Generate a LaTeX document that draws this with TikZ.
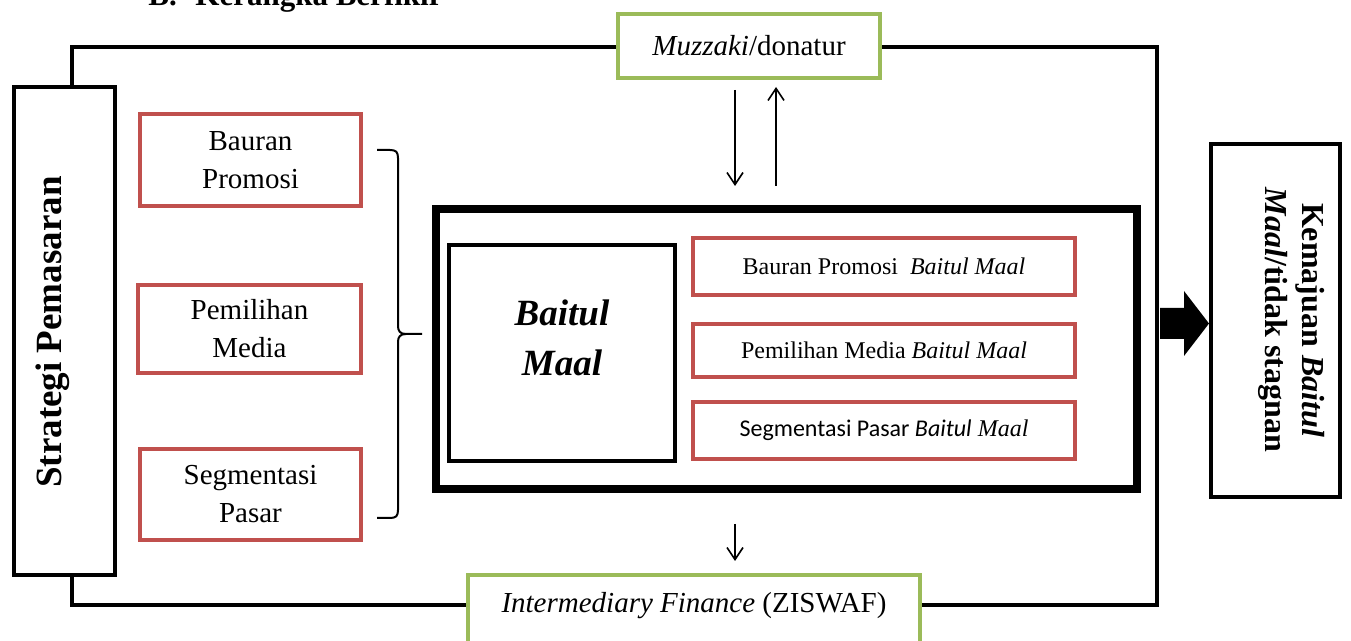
\documentclass[tikz,border=0pt]{standalone}
\usepackage{fontspec}
\setmainfont{Liberation Serif}
\newfontfamily\calibri{Carlito}
\usetikzlibrary{arrows.meta}
\definecolor{redc}{HTML}{C0504D}
\definecolor{greenc}{HTML}{9BBB59}
\tikzset{
  blkbox/.style={draw=black, line width=2pt, fill=white, inner sep=0pt, align=center},
  redbox/.style={draw=redc, line width=2pt, fill=white, inner sep=0pt, align=center},
  greenbox/.style={draw=greenc, line width=2pt, fill=white, inner sep=0pt, align=center},
  frameline/.style={line width=2.4pt},
  thinarr/.style={line width=0.8pt, -{Straight Barb[length=6pt,width=8pt]}},
  lefttxt/.style={font=\fontsize{14.5}{19}\selectfont},
  innertxt/.style={font=\fontsize{12}{14}\selectfont},
}
\begin{document}
\begin{tikzpicture}[x=0.5pt,y=-0.5pt]
\useasboundingbox (0,0) rectangle (1351,641);
\clip (0,0) rectangle (1351,641);

% heading (cut at top)
\node[anchor=base west, inner sep=0pt, font=\bfseries\fontsize{15.5}{18}\selectfont] (head) at (148,6) {B.\hspace{0.6em}Kerangka Berfikir};

% left column
\node[blkbox, minimum width=50.5pt, minimum height=244pt] (strat) at (64.5,331) {};
\node[rotate=90, inner sep=0pt, font=\bfseries\fontsize{18.5}{22}\selectfont] (stratt) at (53,332) {Strategi Pemasaran};

\node[redbox, lefttxt, minimum width=110.5pt, minimum height=46pt] (bp) at (250.5,160) {Bauran\\Promosi};
\node[redbox, lefttxt, minimum width=111.5pt, minimum height=44pt] (pm) at (249.5,329) {Pemilihan\\Media};
\node[redbox, lefttxt, minimum width=110.5pt, minimum height=45.5pt] (sp) at (250.5,494.5) {Segmentasi\\Pasar};

% brace
\coordinate (bt) at (377,150);
\coordinate (bb) at (377,518);
\coordinate (btip) at (422,334);
\draw[line width=1pt, line join=round]
  (bt) -- (390,150) .. controls (396,150) and (398,152) .. (398,158)
  -- (398,326) .. controls (398,331) and (400,334) .. (406,334) -- (btip)
  (406,334) .. controls (400,334) and (398,337) .. (398,342)
  -- (398,510) .. controls (398,516) and (396,518) .. (390,518) -- (bb);

% central block
\node[draw=black, line width=4pt, fill=white, minimum width=350.5pt, minimum height=140pt, inner sep=0pt] (big) at (786.5,349) {};
\node[blkbox, minimum width=113pt, minimum height=108pt] (bm) at (562,353) {};
\node[inner sep=0pt, align=center, font=\bfseries\itshape\fontsize{18.5}{25}\selectfont] (bmt) at (562,338) {Baitul\\Maal};

\node[redbox, innertxt, minimum width=191pt, minimum height=28.5pt] (r1) at (884,266.5) {Bauran Promosi\ \ \textit{Baitul Maal}};
\node[redbox, innertxt, minimum width=191pt, minimum height=26.5pt] (r2) at (884,350.5) {Pemilihan Media \textit{Baitul Maal}};
\node[redbox, innertxt, minimum width=191pt, minimum height=28.5pt] (r3) at (884,430.5) {{\calibri Segmentasi Pasar \textit{Baitul}} \textit{Maal}};

% top and bottom green boxes
\node[greenbox, minimum width=131pt, minimum height=32pt, font=\fontsize{14.5}{17}\selectfont] (muz) at (749,46) {\textit{Muzzaki}/donatur};
\node[greenbox, minimum width=226pt, minimum height=45pt] (inter) at (694,620) {};
\node[inner sep=0pt, font=\fontsize{14.5}{17}\selectfont] (intert) at (694,606) {\textit{Intermediary Finance} (ZISWAF)};

% right box
\node[blkbox, minimum width=64.5pt, minimum height=176.5pt] (kem) at (1275.5,320.5) {};
\node[rotate=-90, inner sep=0pt, align=center, font=\bfseries\fontsize{16}{18.5}\selectfont] (kemt) at (1292,320) {Kemajuan \textit{Baitul}\\\textit{Maal}/tidak stagnan};

% outer frame
\coordinate (fl) at (72,47);
\coordinate (fr) at (1157,47);
\coordinate (fbr) at (1157,605);
\coordinate (fbl) at (72,605);
\draw[frameline] (strat.north -| fl) -- (fl) -- (muz.west |- fl);
\draw[frameline] (muz.east |- fr) -- (fr) -- (fbr) -- (inter.east |- fbr);
\draw[frameline] (inter.west |- fbl) -- (fbl) -- (strat.south -| fbl);

% thin arrows
\coordinate (d1) at (735,186);
\coordinate (u1) at (776,186);
\coordinate (d2) at (735,0);
\draw[thinarr, shorten <=5pt] (muz.south -| d1) -- (d1);
\draw[thinarr, shorten >=3.5pt] (u1) -- (muz.south -| u1);
\draw[thinarr, shorten <=15.5pt, shorten >=6pt] (big.south -| d2) -- (inter.north -| d2);

% block arrow
\fill[black] (1160,308) -- (1184,308) -- (1184,291) -- (1209,323.5) -- (1184,356) -- (1184,339) -- (1160,339) -- cycle;
\end{tikzpicture}
\end{document}
